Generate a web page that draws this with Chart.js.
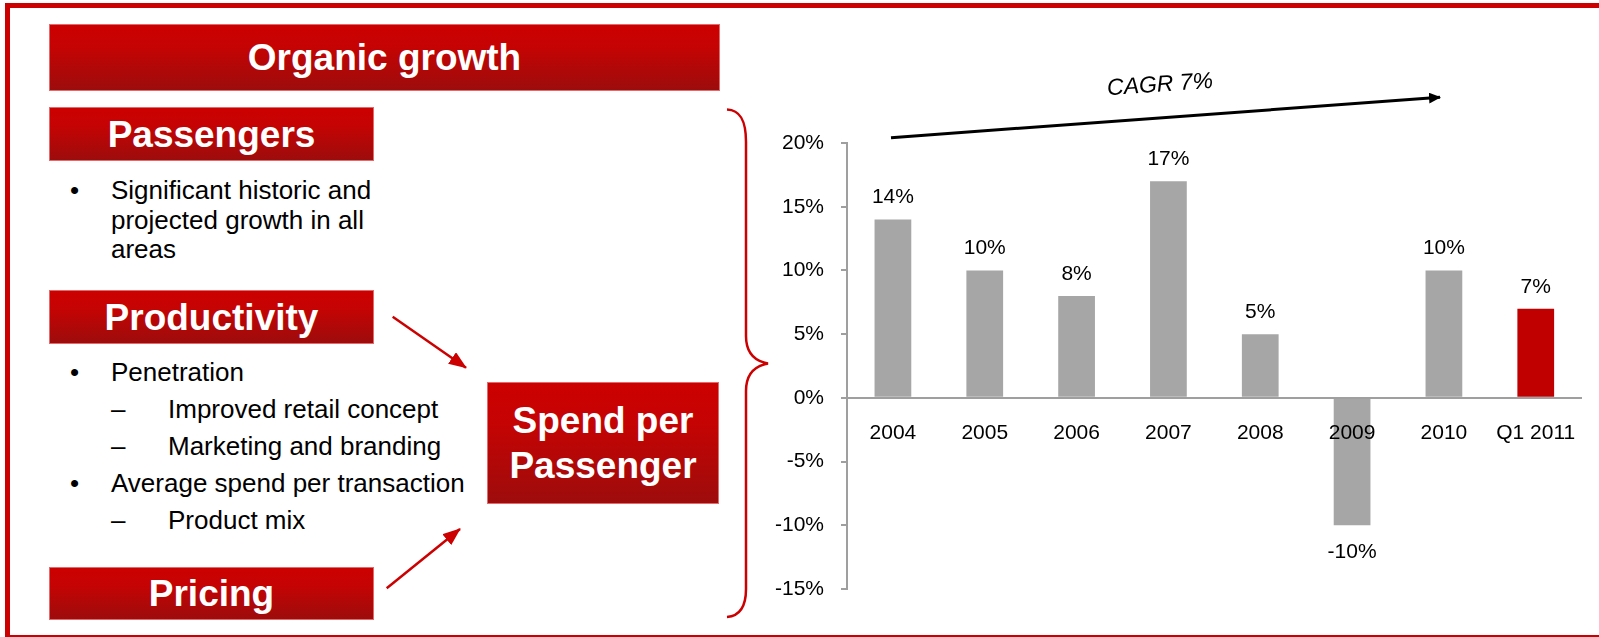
<!DOCTYPE html>
<html>
<head>
<meta charset="utf-8">
<title>Organic growth – Spend per Passenger</title>
<script src="https://cdn.jsdelivr.net/npm/chart.js@4.4.1/dist/chart.umd.min.js"></script>
<style>
  html, body { margin: 0; padding: 0; }
  body {
    position: relative; width: 1599px; height: 637px; overflow: hidden;
    background: #fff; font-family: "Liberation Sans", Arial, sans-serif; color: #000;
  }
  .frame {
    position: absolute; left: 5px; top: 3px; width: 1640px; height: 637px;
    box-sizing: border-box; border: 5px solid #cc0000;
  }
  .box {
    position: absolute; box-sizing: border-box;
    display: flex; align-items: center; justify-content: center; text-align: center;
    color: #fff; font-weight: bold; font-size: 37px; line-height: 1;
    background: linear-gradient(to bottom, #cc0000 0%, #c60303 32%, #9d0c0c 100%);
    border: 1px solid #e26a6a;
  }
  .line { position: absolute; font-size: 26px; line-height: 26px; white-space: nowrap; }
  .cagr {
    position: absolute; left: 1159.5px; top: 84px; font-style: italic; font-size: 23px; line-height: 1;
    white-space: nowrap; transform: translate(-50%, -50%) rotate(-4deg);
  }
  canvas, svg { position: absolute; left: 0; top: 0; }
</style>
</head>
<body>
<div class="frame"></div>

<div class="box" style="left:49px; top:24px; width:671px; height:67px;">Organic growth</div>
<div class="box" style="left:49px; top:107px; width:325px; height:54px;">Passengers</div>
<div class="box" style="left:49px; top:290px; width:325px; height:54px;">Productivity</div>
<div class="box" style="left:49px; top:567px; width:325px; height:53px;">Pricing</div>
<div class="box" style="left:487px; top:382px; width:232px; height:122px; line-height:45px;">Spend per<br>Passenger</div>

<!-- Passengers -->
<div class="line" style="left:70px; top:177px;">•</div>
<div class="line" style="left:111px; top:177px;">Significant historic and</div>
<div class="line" style="left:111px; top:207px;">projected growth in all</div>
<div class="line" style="left:111px; top:236px;">areas</div>

<!-- Productivity -->
<div class="line" style="left:70px; top:359px;">•</div>
<div class="line" style="left:111px; top:359px;">Penetration</div>
<div class="line" style="left:111px; top:396px;">–</div>
<div class="line" style="left:168px; top:396px;">Improved retail concept</div>
<div class="line" style="left:111px; top:433px;">–</div>
<div class="line" style="left:168px; top:433px;">Marketing and branding</div>
<div class="line" style="left:70px; top:470px;">•</div>
<div class="line" style="left:111px; top:470px;">Average spend per transaction</div>
<div class="line" style="left:111px; top:507px;">–</div>
<div class="line" style="left:168px; top:507px;">Product mix</div>

<canvas id="growthChart" width="1599" height="637"></canvas>

<svg width="1599" height="637" viewBox="0 0 1599 637">
  <defs>
    <marker id="redHead" markerUnits="userSpaceOnUse" markerWidth="18" markerHeight="14" refX="17" refY="7" orient="auto">
      <path d="M0,0 L18,7 L0,14 Z" fill="#cc0000"/>
    </marker>
    <marker id="blackHead" markerUnits="userSpaceOnUse" markerWidth="12" markerHeight="11" refX="11" refY="5.5" orient="auto">
      <path d="M0,0 L12,5.5 L0,11 Z" fill="#000"/>
    </marker>
  </defs>
  <!-- drivers pointing at spend per passenger -->
  <line x1="392.7" y1="316.7" x2="466" y2="367.7" stroke="#cc0000" stroke-width="2.5" marker-end="url(#redHead)"/>
  <line x1="386.7" y1="588.3" x2="460" y2="529" stroke="#cc0000" stroke-width="2.5" marker-end="url(#redHead)"/>
  <!-- brace grouping the drivers -->
  <path d="M727,109.5 C740,110 746,120 746,142 L746,336 C746,352 754,361 768,363.5 C754,366 746,375 746,391 L746,589 C746,607 740,616 727,617"
        fill="none" stroke="#cc0000" stroke-width="2.5"/>
  <!-- growth trend arrow -->
  <line x1="891" y1="137.7" x2="1440" y2="97.3" stroke="#000" stroke-width="3" marker-end="url(#blackHead)"/>
</svg>
<div class="cagr">CAGR 7%</div>

<script>
// Spend per passenger growth, year on year
const categories = ['2004', '2005', '2006', '2007', '2008', '2009', '2010', 'Q1 2011'];
const growthPct = [14, 10, 8, 17, 5, -10, 10, 7];
const yAxisMin = -15;
const yAxisMax = 20;
const yAxisStep = 5;

const FONT_FAMILY = '"Liberation Sans", Arial, sans-serif';
const GREY_BAR = '#a6a6a6';
const RED_BAR = '#c00000';
const AXIS_GREY = '#9f9f9f';

// latest period highlighted in red
const barColors = categories.map((c, i) => (i === categories.length - 1 ? RED_BAR : GREY_BAR));

// value labels above positive bars and below negative ones
const valueLabels = {
  id: 'valueLabels',
  afterDatasetsDraw(chart) {
    const ctx = chart.ctx;
    const meta = chart.getDatasetMeta(0);
    const values = chart.data.datasets[0].data;
    ctx.save();
    ctx.font = '21px ' + FONT_FAMILY;
    ctx.fillStyle = '#000';
    ctx.textAlign = 'center';
    ctx.textBaseline = 'alphabetic';
    meta.data.forEach((bar, i) => {
      const v = values[i];
      const y = v >= 0 ? bar.y - 16 : bar.y + 33;
      ctx.fillText(v + '%', bar.x, y);
    });
    ctx.restore();
  }
};

new Chart(document.getElementById('growthChart'), {
  type: 'bar',
  data: {
    labels: categories,
    datasets: [{
      data: growthPct,
      backgroundColor: barColors,
      borderWidth: 0,
      barPercentage: 0.4,
      categoryPercentage: 1.0
    }]
  },
  options: {
    responsive: false,
    animation: false,
    devicePixelRatio: 1,
    layout: { padding: { left: 767, top: 143, right: 12, bottom: 48 } },
    plugins: { legend: { display: false }, tooltip: { enabled: false } },
    scales: {
      x: {
        position: { y: 0 },
        grid: { display: false, drawTicks: false, z: 1 },
        border: { display: true, color: AXIS_GREY, width: 2, z: 1 },
        ticks: {
          z: 1,
          color: '#000', padding: 23, maxRotation: 0, autoSkip: false,
          font: { size: 21, family: FONT_FAMILY }
        }
      },
      y: {
        min: yAxisMin,
        max: yAxisMax,
        afterFit(scale) { scale.width = 80; },
        grid: { drawOnChartArea: false, drawTicks: true, tickLength: 6, color: AXIS_GREY, lineWidth: 2 },
        border: { display: true, color: AXIS_GREY, width: 2 },
        ticks: {
          stepSize: yAxisStep,
          padding: 17,
          color: '#000',
          font: { size: 21, family: FONT_FAMILY },
          callback: v => v + '%'
        }
      }
    }
  },
  plugins: [valueLabels]
});
</script>
</body>
</html>
